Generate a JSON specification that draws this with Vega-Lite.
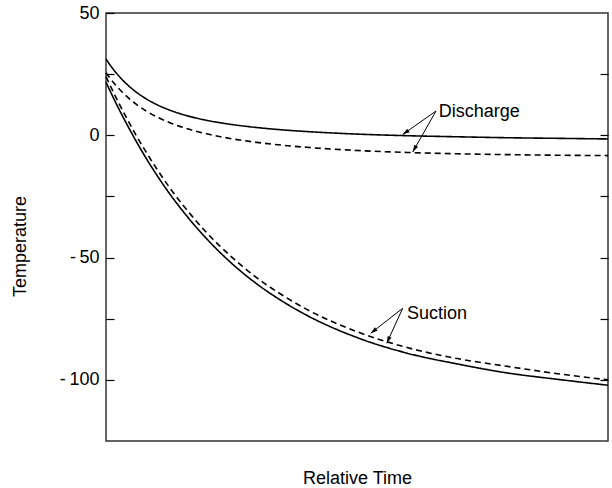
{
  "$schema": "https://vega.github.io/schema/vega-lite/v6.json",
  "width": 502,
  "height": 428,
  "autosize": "none",
  "padding": {"left": 106, "top": 13, "right": 4, "bottom": 47},
  "background": "white",
  "config": {
    "font": "Liberation Sans",
    "view": {"stroke": "#333333", "strokeWidth": 1.5},
    "text": {"font": "Liberation Sans"}
  },
  "datasets": {
    "curves": [
      {"group": "Discharge", "run": "run 1", "t": 0, "temp": 31.2},
      {"group": "Discharge", "run": "run 1", "t": 0.01, "temp": 28.22},
      {"group": "Discharge", "run": "run 1", "t": 0.02, "temp": 25.6},
      {"group": "Discharge", "run": "run 1", "t": 0.03, "temp": 23.27},
      {"group": "Discharge", "run": "run 1", "t": 0.045, "temp": 20.24},
      {"group": "Discharge", "run": "run 1", "t": 0.06, "temp": 17.7},
      {"group": "Discharge", "run": "run 1", "t": 0.08, "temp": 14.91},
      {"group": "Discharge", "run": "run 1", "t": 0.1, "temp": 12.66},
      {"group": "Discharge", "run": "run 1", "t": 0.125, "temp": 10.44},
      {"group": "Discharge", "run": "run 1", "t": 0.15, "temp": 8.68},
      {"group": "Discharge", "run": "run 1", "t": 0.175, "temp": 7.28},
      {"group": "Discharge", "run": "run 1", "t": 0.2, "temp": 6.13},
      {"group": "Discharge", "run": "run 1", "t": 0.25, "temp": 4.42},
      {"group": "Discharge", "run": "run 1", "t": 0.3, "temp": 3.18},
      {"group": "Discharge", "run": "run 1", "t": 0.35, "temp": 2.24},
      {"group": "Discharge", "run": "run 1", "t": 0.4, "temp": 1.53},
      {"group": "Discharge", "run": "run 1", "t": 0.5, "temp": 0.49},
      {"group": "Discharge", "run": "run 1", "t": 0.6, "temp": -0.17},
      {"group": "Discharge", "run": "run 1", "t": 0.7, "temp": -0.61},
      {"group": "Discharge", "run": "run 1", "t": 0.8, "temp": -1.0},
      {"group": "Discharge", "run": "run 1", "t": 0.9, "temp": -1.25},
      {"group": "Discharge", "run": "run 1", "t": 1.0, "temp": -1.5},
      {"group": "Discharge", "run": "run 2", "t": 0, "temp": 25.6},
      {"group": "Discharge", "run": "run 2", "t": 0.01, "temp": 22.82},
      {"group": "Discharge", "run": "run 2", "t": 0.02, "temp": 20.33},
      {"group": "Discharge", "run": "run 2", "t": 0.03, "temp": 18.11},
      {"group": "Discharge", "run": "run 2", "t": 0.045, "temp": 15.21},
      {"group": "Discharge", "run": "run 2", "t": 0.06, "temp": 12.72},
      {"group": "Discharge", "run": "run 2", "t": 0.08, "temp": 9.94},
      {"group": "Discharge", "run": "run 2", "t": 0.1, "temp": 7.66},
      {"group": "Discharge", "run": "run 2", "t": 0.125, "temp": 5.32},
      {"group": "Discharge", "run": "run 2", "t": 0.15, "temp": 3.44},
      {"group": "Discharge", "run": "run 2", "t": 0.175, "temp": 1.89},
      {"group": "Discharge", "run": "run 2", "t": 0.2, "temp": 0.6},
      {"group": "Discharge", "run": "run 2", "t": 0.25, "temp": -1.4},
      {"group": "Discharge", "run": "run 2", "t": 0.3, "temp": -2.89},
      {"group": "Discharge", "run": "run 2", "t": 0.35, "temp": -4.03},
      {"group": "Discharge", "run": "run 2", "t": 0.4, "temp": -4.92},
      {"group": "Discharge", "run": "run 2", "t": 0.5, "temp": -6.21},
      {"group": "Discharge", "run": "run 2", "t": 0.6, "temp": -7.02},
      {"group": "Discharge", "run": "run 2", "t": 0.7, "temp": -7.56},
      {"group": "Discharge", "run": "run 2", "t": 0.8, "temp": -7.91},
      {"group": "Discharge", "run": "run 2", "t": 0.9, "temp": -8.15},
      {"group": "Discharge", "run": "run 2", "t": 1.0, "temp": -8.3},
      {"group": "Suction", "run": "run 1", "t": 0, "temp": 21.7},
      {"group": "Suction", "run": "run 1", "t": 0.02, "temp": 13.1},
      {"group": "Suction", "run": "run 1", "t": 0.04, "temp": 5.1},
      {"group": "Suction", "run": "run 1", "t": 0.06, "temp": -2.4},
      {"group": "Suction", "run": "run 1", "t": 0.08, "temp": -9.4},
      {"group": "Suction", "run": "run 1", "t": 0.1, "temp": -15.9},
      {"group": "Suction", "run": "run 1", "t": 0.125, "temp": -23.4},
      {"group": "Suction", "run": "run 1", "t": 0.15, "temp": -30.2},
      {"group": "Suction", "run": "run 1", "t": 0.2, "temp": -42.2},
      {"group": "Suction", "run": "run 1", "t": 0.25, "temp": -52.3},
      {"group": "Suction", "run": "run 1", "t": 0.3, "temp": -60.7},
      {"group": "Suction", "run": "run 1", "t": 0.35, "temp": -67.7},
      {"group": "Suction", "run": "run 1", "t": 0.4, "temp": -73.6},
      {"group": "Suction", "run": "run 1", "t": 0.5, "temp": -82.7},
      {"group": "Suction", "run": "run 1", "t": 0.6, "temp": -89.1},
      {"group": "Suction", "run": "run 1", "t": 0.7, "temp": -93.5},
      {"group": "Suction", "run": "run 1", "t": 0.8, "temp": -97.2},
      {"group": "Suction", "run": "run 1", "t": 0.9, "temp": -99.8},
      {"group": "Suction", "run": "run 1", "t": 1.0, "temp": -102.2},
      {"group": "Suction", "run": "run 2", "t": 0, "temp": 24.0},
      {"group": "Suction", "run": "run 2", "t": 0.02, "temp": 15.4},
      {"group": "Suction", "run": "run 2", "t": 0.04, "temp": 7.5},
      {"group": "Suction", "run": "run 2", "t": 0.06, "temp": 0.0},
      {"group": "Suction", "run": "run 2", "t": 0.08, "temp": -6.9},
      {"group": "Suction", "run": "run 2", "t": 0.1, "temp": -13.4},
      {"group": "Suction", "run": "run 2", "t": 0.125, "temp": -20.9},
      {"group": "Suction", "run": "run 2", "t": 0.15, "temp": -27.7},
      {"group": "Suction", "run": "run 2", "t": 0.2, "temp": -39.7},
      {"group": "Suction", "run": "run 2", "t": 0.25, "temp": -49.7},
      {"group": "Suction", "run": "run 2", "t": 0.3, "temp": -58.2},
      {"group": "Suction", "run": "run 2", "t": 0.35, "temp": -65.2},
      {"group": "Suction", "run": "run 2", "t": 0.4, "temp": -71.2},
      {"group": "Suction", "run": "run 2", "t": 0.5, "temp": -80.3},
      {"group": "Suction", "run": "run 2", "t": 0.6, "temp": -86.8},
      {"group": "Suction", "run": "run 2", "t": 0.7, "temp": -91.3},
      {"group": "Suction", "run": "run 2", "t": 0.8, "temp": -94.5},
      {"group": "Suction", "run": "run 2", "t": 0.9, "temp": -97.5},
      {"group": "Suction", "run": "run 2", "t": 1.0, "temp": -100.0}
    ],
    "arrows": [
      {"arrow": "d1", "t0": 0.6574, "v0": 9.93, "t1": 0.591, "v1": 0.32},
      {"arrow": "d2", "t0": 0.6574, "v0": 9.93, "t1": 0.611, "v1": -6.83},
      {"arrow": "s1", "t0": 0.591, "v0": -70.74, "t1": 0.5273, "v1": -80.96},
      {"arrow": "s2", "t0": 0.591, "v0": -70.74, "t1": 0.5592, "v1": -85.05}
    ],
    "labels": [
      {"label": "Discharge", "t": 0.6627, "temp": 7.68},
      {"label": "Suction", "t": 0.5996, "temp": -75.32}
    ]
  },
  "layer": [
    {
      "data": {"name": "curves"},
      "mark": {"type": "line", "color": "black", "strokeWidth": 1.6, "interpolate": "monotone"},
      "encoding": {
        "x": {
          "field": "t", "type": "quantitative",
          "scale": {"domain": [0, 1], "nice": false, "zero": false},
          "axis": {
            "title": "Relative Time", "labels": false, "ticks": false, "domain": false, "grid": false,
            "titleFontSize": 18, "titleFontWeight": "normal", "titleColor": "black",
            "titleFont": "Liberation Sans", "titleBaseline": "alphabetic", "titleY": 42
          }
        },
        "y": {
          "field": "temp", "type": "quantitative",
          "scale": {"domain": [-125, 50], "nice": false, "zero": false},
          "axis": {
            "title": "Temperature",
            "values": [50, 25, 0, -25, -50, -75, -100],
            "labelExpr": "datum.value % 50 != 0 ? '' : (datum.value < 0 ? '-\u2009' + (-datum.value) : '' + datum.value)",
            "tickSize": -8, "tickColor": "black", "tickWidth": 1.2,
            "labelPadding": 15, "labelFontSize": 18, "labelColor": "black", "labelFont": "Liberation Sans",
            "domain": false, "grid": false,
            "titleFontSize": 18, "titleFontWeight": "normal", "titleColor": "black", "titleFont": "Liberation Sans",
            "titleAngle": 270, "titleX": -86, "titleY": 233, "titleAlign": "center", "titleBaseline": "middle"
          }
        },
        "detail": {"field": "group"},
        "strokeDash": {
          "field": "run", "type": "nominal",
          "scale": {"domain": ["run 1", "run 2"], "range": [[1, 0], [6, 4]]},
          "legend": null
        }
      }
    },
    {
      "data": {"name": "arrows"},
      "mark": {"type": "rule", "color": "black", "strokeWidth": 1},
      "encoding": {
        "x": {"field": "t0", "type": "quantitative", "axis": null},
        "y": {
          "field": "v0", "type": "quantitative",
          "axis": {
            "orient": "right", "title": null, "labels": false, "domain": false, "grid": false,
            "values": [25, 0, -25, -50, -75, -100],
            "tickSize": -8, "tickColor": "black", "tickWidth": 1.2
          }
        },
        "x2": {"field": "t1"},
        "y2": {"field": "v1"}
      }
    },
    {
      "data": {"name": "arrows"},
      "transform": [{"filter": "datum.arrow == 'd1'"}],
      "mark": {"type": "point", "shape": "M0,0L-0.3,1L0.3,1Z", "filled": true, "color": "black", "opacity": 1, "size": 196, "angle": 234.8},
      "encoding": {
        "x": {"field": "t1", "type": "quantitative", "axis": null},
        "y": {"field": "v1", "type": "quantitative", "axis": null}
      }
    },
    {
      "data": {"name": "arrows"},
      "transform": [{"filter": "datum.arrow == 'd2'"}],
      "mark": {"type": "point", "shape": "M0,0L-0.3,1L0.3,1Z", "filled": true, "color": "black", "opacity": 1, "size": 196, "angle": 209.6},
      "encoding": {
        "x": {"field": "t1", "type": "quantitative", "axis": null},
        "y": {"field": "v1", "type": "quantitative", "axis": null}
      }
    },
    {
      "data": {"name": "arrows"},
      "transform": [{"filter": "datum.arrow == 's1'"}],
      "mark": {"type": "point", "shape": "M0,0L-0.3,1L0.3,1Z", "filled": true, "color": "black", "opacity": 1, "size": 196, "angle": 232},
      "encoding": {
        "x": {"field": "t1", "type": "quantitative", "axis": null},
        "y": {"field": "v1", "type": "quantitative", "axis": null}
      }
    },
    {
      "data": {"name": "arrows"},
      "transform": [{"filter": "datum.arrow == 's2'"}],
      "mark": {"type": "point", "shape": "M0,0L-0.3,1L0.3,1Z", "filled": true, "color": "black", "opacity": 1, "size": 196, "angle": 204.6},
      "encoding": {
        "x": {"field": "t1", "type": "quantitative", "axis": null},
        "y": {"field": "v1", "type": "quantitative", "axis": null}
      }
    },
    {
      "data": {"name": "labels"},
      "mark": {"type": "text", "align": "left", "baseline": "alphabetic", "fontSize": 18, "color": "black", "font": "Liberation Sans"},
      "encoding": {
        "x": {"field": "t", "type": "quantitative", "axis": null},
        "y": {"field": "temp", "type": "quantitative", "axis": null},
        "text": {"field": "label"}
      }
    }
  ],
  "resolve": {"axis": {"x": "independent", "y": "independent"}}
}
